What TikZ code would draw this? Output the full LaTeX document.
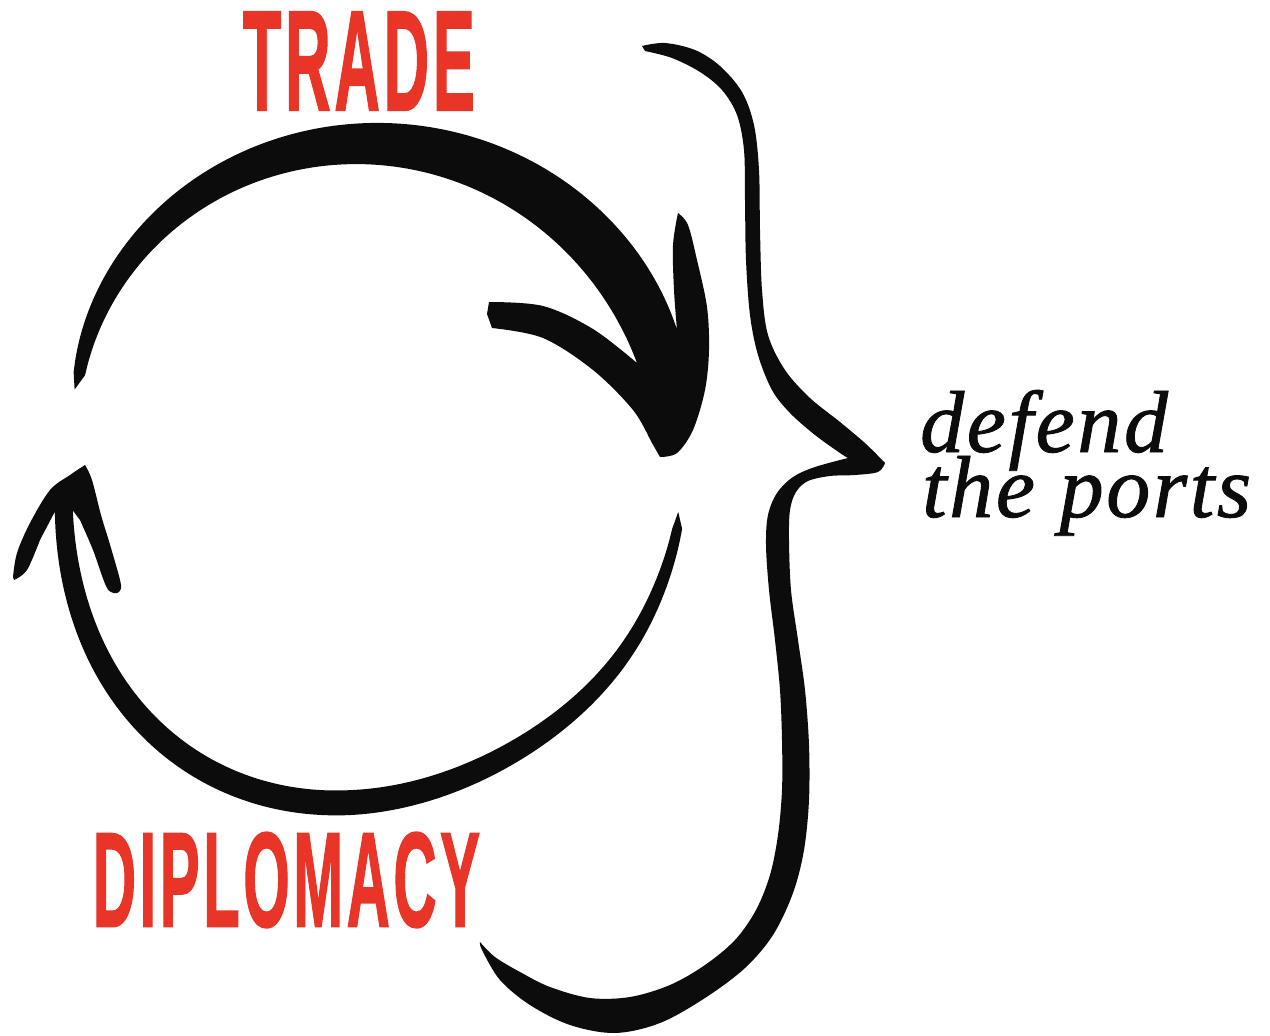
\documentclass[tikz,border=0pt]{standalone}
\usepackage{fontspec}
\newfontface\condfont{Liberation Sans Bold}[FakeBold=1.5,LetterSpace=6]
\newfontface\portfont{Liberation Serif Italic}[LetterSpace=3,FakeBold=1]
\definecolor{tradered}{RGB}{232,53,40}
\definecolor{ink}{RGB}{12,12,12}
\tikzset{
  brush/.style={fill=ink, draw=none},
  sm/.style={smooth,tension=0.55},
  bigword/.style={inner sep=0pt, text=tradered, font=\condfont},
  portword/.style={inner sep=0pt, anchor=base west, text=ink, font=\portfont\fontsize{88}{88}\selectfont},
  declare function={
    tu(\t)=(\t+92)/70;
    ro(\t)=347+3.64*tu(\t)-12.3*tu(\t)*tu(\t)+3.4*tu(\t)*tu(\t)*tu(\t)-10.8*tu(\t)*tu(\t)*tu(\t)*tu(\t);
    ri(\t)=306-23.6*tu(\t)-12*tu(\t)*tu(\t)+12.6*tu(\t)*tu(\t)*tu(\t);
    tb(\t)=(\t-92)/84;
    bv(\t)=(tb(\t)+0.95)/0.25;
    rc(\t)=311.5+10.5*sin(240*(tb(\t)+0.025))-6*exp(-bv(\t)*bv(\t));
    wb(\t)=(tb(\t)<0) ? (25+8*tb(\t)-7*tb(\t)*tb(\t)) : (25-7*tb(\t)*tb(\t));
    rbo(\t)=rc(\t)+0.5*wb(\t);
    rbi(\t)=rc(\t)-0.5*wb(\t);
  }
}
\begin{document}
\begin{tikzpicture}[x=1pt,y=-1pt]
\useasboundingbox (0,0) rectangle (1270,1036);

% TRADE arc with arrowhead (centre 375,470)
\begin{scope}[shift={(375,470)}]
\fill[brush] (-165:311)
  -- plot[smooth,domain=-162:-25,samples=60,variable=\t] ({\t}:{ro(\t)})
  -- plot[sm] coordinates {(302,-140) (299,-180) (298,-225) (303,-257)}
  -- plot[sm] coordinates {(303,-257) (313,-245) (322,-210) (332,-163) (334,-120) (330,-80) (318,-40) (302,-17) (285,-13)}
  -- plot[sm] coordinates {(285,-13) (277,-27) (258,-60) (218,-100) (168,-132) (117,-142)}
  -- (112,-156) -- (114,-168)
  -- plot[sm] coordinates {(114,-168) (168,-164) (218,-141) (262,-107)}
  -- plot[smooth,domain=0:1,samples=60,variable=\s] ({-22-140*\s}:{ri(-22-140*\s)})
  -- cycle;
\end{scope}

% DIPLOMACY arc with arrowhead (centre 365,490)
\begin{scope}[shift={(365,490)}]
\fill[brush] (4:314)
  -- plot[smooth,domain=7:176,samples=70,variable=\t] ({\t}:{rbo(\t)})
  -- plot[sm] coordinates {(-325,50) (-338,80) (-351,90)}
  -- plot[sm] coordinates {(-352,87) (-348,63) (-335,33) (-315,0) (-295,-15) (-280,-25)}
  -- plot[sm] coordinates {(-280,-25) (-273,-10) (-264,25) (-254,58) (-244,95) (-248,103)}
  -- plot[sm] coordinates {(-248,103) (-258,98) (-272,60) (-285,30)}
  -- plot[smooth,domain=0:1,samples=70,variable=\s] ({176-169*\s}:{rbi(176-169*\s)})
  -- cycle;
\end{scope}

% brace
\fill[brush] (642,46)
  -- plot[sm] coordinates {(642,46) (665,43) (695,50) (720,66) (742,92) (754,125) (759,170) (760,230) (762,290) (768,335) (785,370) (810,398) (840,422) (866,444) (885,463)}
  -- plot[sm] coordinates {(885,463) (878,472) (855,475) (830,476) (808,481) (796,492) (790,510) (789,540) (791,590) (798,640) (805,690) (809,745) (809,800) (804,850) (793,893) (773,935) (745,968) (705,998) (660,1023) (615,1033) (570,1025) (530,1005) (500,980) (482,950) (480,942)}
  -- plot[sm] coordinates {(480,942) (495,957) (520,972) (550,987) (590,998) (630,997) (670,985) (705,965) (735,940) (756,910) (770,875) (778,835) (782,790) (782,740) (780,690) (775,640) (769,590) (766,545) (768,515) (777,493) (793,477) (815,467) (848,458)}
  -- plot[sm] coordinates {(848,458) (840,453) (815,435) (790,413) (772,390) (758,355) (750,315) (746,260) (745,200) (744,150) (737,115) (722,90) (700,72) (672,58) (645,51)}
  -- cycle;

% labels
\node[bigword] (trade) at (359,61) {\resizebox{232pt}{98pt}{TRADE}};
\node[bigword] (diplomacy) at (286.5,880) {\resizebox{387pt}{94pt}{DIPLOMACY}};
\node[portword] (defend) at (920,452) {defend};
\node[portword] (ports) at (922,517) {the ports};
\end{tikzpicture}
\end{document}
